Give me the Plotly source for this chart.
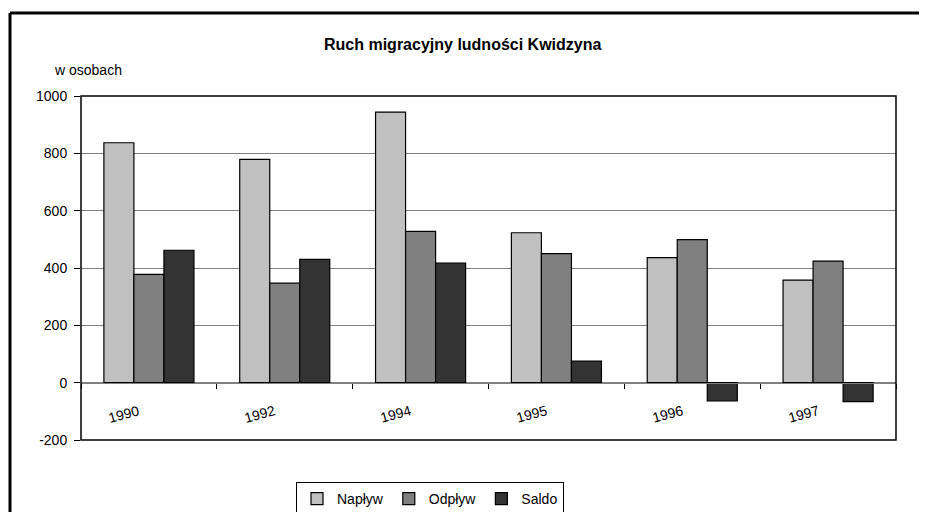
import plotly.graph_objects as go

years = ["1990", "1992", "1994", "1995", "1996", "1997"]
naplyw = [837, 779, 944, 523, 436, 358]
odplyw = [378, 347, 528, 450, 499, 424]
saldo = [462, 430, 417, 75, -64, -66]
series_names = ["Napływ", "Odpływ", "Saldo"]
series_colors = ["#C0C0C0", "#808080", "#333333"]
y_ticks = [-200, 0, 200, 400, 600, 800, 1000]

# the page body has an 8px margin, so the figure is drawn 8px in from the window edge
OFF = 8
W, H = 927 - OFF, 512 - OFF
L, R, T, B = 81 - OFF, 31, 96 - OFF, 72
pw, ph = W - L - R, H - T - B

def px_x(x):
    return (x - OFF - L) / pw

def px_y(y):
    return (H - B - (y - OFF)) / ph

FONT = "Liberation Sans, Arial, sans-serif"

fig = go.Figure()
for name, vals, col in zip(series_names, [naplyw, odplyw, saldo], series_colors):
    fig.add_trace(go.Bar(
        x=years, y=vals, name=name,
        marker=dict(color=col, line=dict(color="#000000", width=1.2)),
    ))

ymin, ymax = -200, 1000

fig.update_layout(
    width=W, height=H,
    margin=dict(l=L, r=R, t=T, b=B, autoexpand=False),
    paper_bgcolor="white", plot_bgcolor="white",
    barmode="group", bargap=0.337, bargroupgap=0,
    font=dict(family=FONT, size=14, color="#000000"),
    showlegend=True,
    legend=dict(
        orientation="h", x=px_x(430), y=px_y(499),
        xanchor="center", yanchor="middle",
        bordercolor="#000000", borderwidth=1,
        font=dict(size=14), itemwidth=30,
        tracegroupgap=0, bgcolor="white",
    ),
    xaxis=dict(
        type="category", anchor="free", automargin=False,
        range=[-0.5, len(years) - 0.5],
        position=(0 - ymin) / (ymax - ymin),
        showline=True, linecolor="#808080", linewidth=1,
        ticks="outside", tickson="boundaries", ticklen=5,
        tickcolor="#000000", showticklabels=False,
        showgrid=False, zeroline=False,
    ),
    yaxis=dict(
        range=[ymin, ymax], tickvals=y_ticks, automargin=False,
        ticktext=[str(v) for v in y_ticks],
        showgrid=True, gridcolor="#808080", gridwidth=1,
        zeroline=True, zerolinecolor="#808080", zerolinewidth=1,
        ticks="outside", ticklen=6, tickcolor="#000000",
        showline=False, ticklabelstandoff=4,
        tickfont=dict(size=14),
    ),
)

shapes = [
    dict(type="rect", xref="paper", yref="paper", x0=0, y0=0, x1=1, y1=1,
         line=dict(color="#000000", width=1.5), layer="above"),
    dict(type="line", xref="paper", yref="paper",
         x0=px_x(10), y0=px_y(13), x1=px_x(10), y1=px_y(530),
         line=dict(color="#000000", width=3)),
    dict(type="line", xref="paper", yref="paper",
         x0=px_x(10), y0=px_y(13), x1=px_x(940), y1=px_y(13),
         line=dict(color="#000000", width=3)),
]
fig.update_layout(shapes=shapes)

annotations = [
    dict(text="<b>Ruch migracyjny ludności Kwidzyna</b>", xref="paper", yref="paper",
         x=px_x(462), y=px_y(45), xanchor="center", yanchor="middle",
         showarrow=False, font=dict(size=16)),
    dict(text="w osobach", xref="paper", yref="paper",
         x=px_x(52), y=px_y(70), xanchor="left", yanchor="middle",
         showarrow=False, font=dict(size=14)),
]
for i, yr in enumerate(years):
    annotations.append(dict(
        text=yr, x=i, y=0, xref="x", yref="y",
        xanchor="center", yanchor="middle", textangle=-15,
        xshift=-25, yshift=-31, showarrow=False, font=dict(size=14),
    ))
fig.update_layout(annotations=annotations)

fig.write_html("out.html")
